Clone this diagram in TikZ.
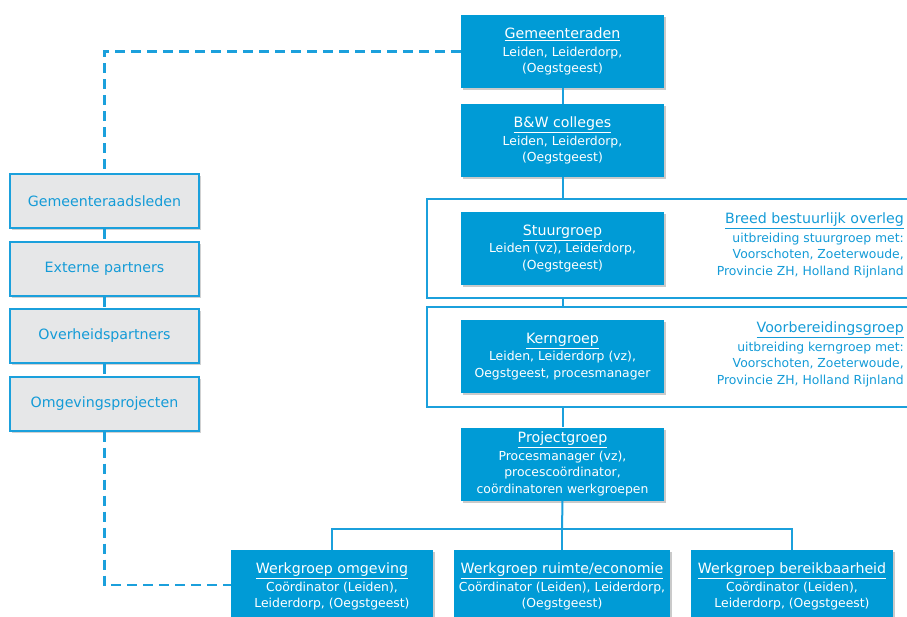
\documentclass[tikz,border=0pt]{standalone}
\usepackage{fontspec}
\setmainfont{DejaVu Sans}
\usetikzlibrary{shadows}

\definecolor{orgblue}{RGB}{0,155,214}
\definecolor{lineblue}{RGB}{27,160,220}
\definecolor{textblue}{RGB}{20,155,215}
\definecolor{sidegrey}{RGB}{230,231,232}

\newcommand{\boxtitle}[1]{{\fontsize{14.2}{16.5}\selectfont\underline{#1}}}
\newcommand{\boxbody}{\fontsize{12.4}{16.5}\selectfont}

\tikzset{
  orgbox/.style={fill=orgblue, text=white, align=center, inner sep=0pt,
    minimum width=203pt, minimum height=73pt, font=\boxbody,
    drop shadow={shadow xshift=2pt, shadow yshift=-2pt, opacity=.35, fill=black!60}},
  sidebox/.style={draw=lineblue, line width=1.2pt, fill=sidegrey, text=textblue,
    inner sep=0pt, minimum width=189pt, minimum height=54pt,
    font=\fontsize{14.2}{16}\selectfont,
    drop shadow={shadow xshift=2pt, shadow yshift=-2pt, opacity=.3, fill=black!60}},
  sidenote/.style={text=textblue, align=right, anchor=north east, inner sep=0pt, font=\boxbody},
  link/.style={draw=lineblue, line width=2pt},
  dashlink/.style={draw=lineblue, line width=2.5pt, dash pattern=on 10pt off 6pt},
  frame/.style={draw=lineblue, line width=2pt, inner sep=0pt, minimum width=488pt, minimum height=99pt},
}

\begin{document}
\begin{tikzpicture}[x=1pt,y=-1pt]
\useasboundingbox (0,0) rectangle (907,617);
% Frames round the two overleg levels
\node[frame] (f1) at (671,248.5) {};
\node[frame] (f2) at (671,357) {};
% Main chain of boxes
\node[orgbox] (gr) at (562.5,51.5) {\boxtitle{Gemeenteraden}\\[1pt]Leiden, Leiderdorp,\\(Oegstgeest)};
\node[orgbox] (bw) at (562.5,140.5) {\boxtitle{B\&W colleges}\\[1pt]Leiden, Leiderdorp,\\(Oegstgeest)};
\node[orgbox] (sg) at (562.5,248.5) {\boxtitle{Stuurgroep}\\[1pt]Leiden (vz), Leiderdorp,\\(Oegstgeest)};
\node[orgbox] (kg) at (562.5,356.5) {\boxtitle{Kerngroep}\\[1pt]Leiden, Leiderdorp (vz),\\Oegstgeest, procesmanager};
\node[orgbox] (pg) at (562.5,464) {\boxtitle{Projectgroep}\\[1pt]Procesmanager (vz),\\procescoördinator,\\coördinatoren werkgroepen};
% Werkgroepen
\node[orgbox, minimum width=202pt] (wo) at (332,586.5) {\boxtitle{Werkgroep omgeving}\\[1pt]Coördinator (Leiden),\\Leiderdorp, (Oegstgeest)};
\node[orgbox, minimum width=216pt] (wr) at (562,586.5) {\boxtitle{Werkgroep ruimte/economie}\\[1pt]Coördinator (Leiden), Leiderdorp,\\(Oegstgeest)};
\node[orgbox, minimum width=202pt] (wb) at (792,586.5) {\boxtitle{Werkgroep bereikbaarheid}\\[1pt]Coördinator (Leiden),\\Leiderdorp, (Oegstgeest)};
% Side notes
\node[sidenote] (bbo) at (904,213) {\boxtitle{Breed bestuurlijk overleg}\\[2pt]uitbreiding stuurgroep met:\\Voorschoten, Zoeterwoude,\\Provincie ZH, Holland Rijnland};
\node[sidenote] (vbg) at (904,322) {\boxtitle{Voorbereidingsgroep}\\[2pt]uitbreiding kerngroep met:\\Voorschoten, Zoeterwoude,\\Provincie ZH, Holland Rijnland};
% Left column
\node[sidebox] (gl) at (104.5,201) {Gemeenteraadsleden};
\node[sidebox] (ep) at (104.5,269) {Externe partners};
\node[sidebox] (op) at (104.5,336) {Overheidspartners};
\node[sidebox] (og) at (104.5,404) {Omgevingsprojecten};
% Solid links
\draw[link] (gr) -- (bw);
\draw[link] (bw.south) -- (bw.south |- f1.north);
\draw[link] (sg |- f1.south) -- (sg |- f2.north);
\draw[link] (pg.north |- f2.south) -- (pg.north);
\coordinate (bus) at (562,529);
\draw[link] (pg.south) -- (bus);
\draw[link] (bus) -| (wo.north);
\draw[link] (bus) -| (wb.north);
\draw[link] (bus) -- (wr.north);
% Dashed links
\draw[dashlink] (gr.west) -| (gl.north);
\draw[dashlink] (gl.south) -- (ep.north);
\draw[dashlink] (ep.south) -- (op.north);
\draw[dashlink] (op.south) -- (og.north);
\coordinate (wo in) at (231,585);
\draw[dashlink] (og.south) |- (wo in);
\end{tikzpicture}
\end{document}
